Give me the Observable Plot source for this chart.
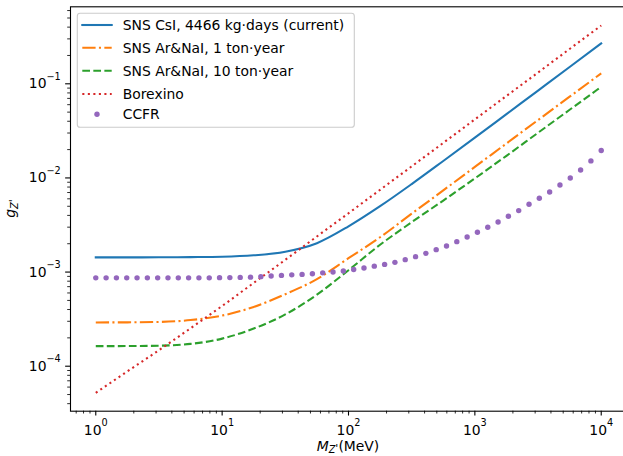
<!DOCTYPE html>
<html><head><meta charset="utf-8">
<script src="https://cdn.jsdelivr.net/npm/d3@7"></script>
<script src="https://cdn.jsdelivr.net/npm/@observablehq/plot@0.6"></script>
<style>
body{margin:0;background:#fff;overflow:hidden}
#chart{width:623px;height:456px;position:relative;overflow:hidden}
</style></head><body><div id="chart"></div>
<script>
// Mass grid (MeV) for the continuous curves
const massGrid = [1, 1.778, 3.162, 5.623, 10, 17.78, 31.62, 56.23, 100, 177.8, 316.2, 562.3, 1000, 1778, 3162, 5623, 10000];
// Couplings
const gCsI      = [1.432e-3, 1.432e-3, 1.435e-3, 1.442e-3, 1.455e-3, 1.507e-3, 1.648e-3, 2.028e-3, 3.062e-3, 5.012e-3, 8.610e-3, 1.514e-2, 2.679e-2, 4.764e-2, 8.472e-2, 0.1507, 0.2685];
const gArNaI1   = [2.917e-4, 2.924e-4, 2.951e-4, 3.090e-4, 3.451e-4, 4.266e-4, 5.821e-4, 8.414e-4, 1.403e-3, 2.344e-3, 4.169e-3, 7.379e-3, 1.309e-2, 2.323e-2, 4.121e-2, 7.295e-2, 0.1291];
const gArNaI10  = [1.633e-4, 1.637e-4, 1.652e-4, 1.726e-4, 1.963e-4, 2.512e-4, 3.548e-4, 5.754e-4, 1.047e-3, 1.950e-3, 3.388e-3, 5.754e-3, 9.886e-3, 1.718e-2, 3.020e-2, 5.297e-2, 9.290e-2];
const gBorexino = [5.212e-5, 8.810e-5, 1.479e-4, 2.529e-4, 4.365e-4, 7.674e-4, 1.349e-3, 2.388e-3, 4.217e-3, 7.482e-3, 1.327e-2, 2.355e-2, 4.188e-2, 7.430e-2, 0.1318, 0.2344, 0.4159];
// CCFR points
const ccfrMass = [1, 1.207, 1.457, 1.758, 2.121, 2.560, 3.089, 3.728, 4.499, 5.429, 6.552, 7.907, 9.541, 11.51, 13.90, 16.77, 20.24, 24.42, 29.47, 35.56, 42.92, 51.79, 62.51, 75.43, 91.03, 109.9, 132.6, 160.0, 193.1, 233.0, 281.2, 339.4, 409.5, 494.3, 596.5, 719.6, 868.5, 1048, 1265, 1527, 1842, 2223, 2683, 3237, 3907, 4715, 5690, 6867, 8287, 10000];
const ccfrG = [8.68e-4, 8.68e-4, 8.68e-4, 8.68e-4, 8.68e-4, 8.68e-4, 8.68e-4, 8.68e-4, 8.68e-4, 8.68e-4, 8.68e-4, 8.68e-4, 8.72e-4, 8.74e-4, 8.78e-4, 8.83e-4, 8.94e-4, 9.07e-4, 9.22e-4, 9.34e-4, 9.45e-4, 9.61e-4, 9.81e-4, 1.000e-3, 1.025e-3, 1.063e-3, 1.103e-3, 1.156e-3, 1.207e-3, 1.268e-3, 1.355e-3, 1.458e-3, 1.581e-3, 1.730e-3, 1.891e-3, 2.105e-3, 2.357e-3, 2.644e-3, 2.988e-3, 3.402e-3, 3.914e-3, 4.498e-3, 5.253e-3, 6.081e-3, 7.098e-3, 8.424e-3, 1.000e-2, 1.216e-2, 1.517e-2, 1.956e-2];

const seriesNames = ["SNS CsI, 4466 kg·days (current)", "SNS Ar&NaI, 1 ton·year", "SNS Ar&NaI, 10 ton·year", "Borexino", "CCFR"];
const seriesColors = ["#1f77b4", "#ff7f0e", "#2ca02c", "#d62728", "#9467bd"];
const seriesDash = [null, "13.3,3.33,2.08,3.33", "7.7,3.33", "2.08,3.44", null];

const xMajorTicks = [1, 10, 100, 1000, 10000];
const xMinorTicks = [0.7, 0.8, 0.9, 2, 3, 4, 5, 6, 7, 8, 9, 20, 30, 40, 50, 60, 70, 80, 90, 200, 300, 400, 500, 600, 700, 800, 900, 2000, 3000, 4000, 5000, 6000, 7000, 8000, 9000];
const yMajorTicks = [1e-4, 1e-3, 1e-2, 1e-1];
const yMinorTicks = [4e-5, 5e-5, 6e-5, 7e-5, 8e-5, 9e-5, 2e-4, 3e-4, 4e-4, 5e-4, 6e-4, 7e-4, 8e-4, 9e-4, 2e-3, 3e-3, 4e-3, 5e-3, 6e-3, 7e-3, 8e-3, 9e-3, 2e-2, 3e-2, 4e-2, 5e-2, 6e-2, 7e-2, 8e-2, 9e-2, 0.2, 0.3, 0.4, 0.5, 0.6];

const curves = [gCsI, gArNaI1, gArNaI10, gBorexino].map(gs => massGrid.map((m, i) => ({m, g: gs[i]})));
const ccfrRows = ccfrMass.map((m, i) => ({m, g: ccfrG[i]}));

const lineMarks = curves.map((rows, k) => Plot.line(rows, {
  x: "m", y: "g", stroke: seriesColors[k], strokeWidth: 2.08,
  strokeDasharray: seriesDash[k] || undefined,
  strokeLinecap: seriesDash[k] ? "butt" : "square", curve: "monotone-x"
}));

const expFmt = d => "10^" + Math.round(Math.log10(d));

const chart = Plot.plot({
  width: 623, height: 456,
  marginLeft: 70, marginRight: -3, marginTop: 6.3, marginBottom: 45.3,
  x: {type: "log", domain: [Math.pow(10, -0.2), Math.pow(10, 4.2)]},
  y: {type: "log", domain: [Math.pow(10, -4.478), Math.pow(10, -0.182)]},
  style: {fontFamily: "DejaVu Sans", fontSize: "13.9px", color: "black", background: "white"},
  marks: [
    ...lineMarks,
    Plot.dot(ccfrRows, {x: "m", y: "g", r: 2.7, fill: seriesColors[4], stroke: "none"}),
    Plot.axisX({ticks: xMinorTicks, tickSize: 2.8, strokeWidth: 0.83, tickFormat: () => "", label: null}),
    Plot.axisX({ticks: xMajorTicks, tickSize: 4.86, tickPadding: 9, strokeWidth: 1.1, tickFormat: expFmt, label: null}),
    Plot.axisY({ticks: yMinorTicks, tickSize: 2.8, strokeWidth: 0.83, tickFormat: () => "", label: null}),
    Plot.axisY({ticks: yMajorTicks, tickSize: 4.86, tickPadding: 4.86, strokeWidth: 1.1, tickFormat: expFmt, label: null}),
    Plot.frame({stroke: "black", strokeWidth: 1.1})
  ]
});
document.getElementById("chart").appendChild(chart);

const SVGNS = "http://www.w3.org/2000/svg";
// Superscript tick labels
chart.querySelectorAll('g[aria-label="x-axis tick label"] text, g[aria-label="y-axis tick label"] text').forEach(t => {
  const s = t.textContent;
  if (!s) { t.remove(); return; }
  const e = s.split("^")[1].replace("-", "\u2212");
  t.textContent = "10";
  const ts = document.createElementNS(SVGNS, "tspan");
  ts.setAttribute("dy", "-8.5");
  ts.setAttribute("font-size", "9.7px");
  ts.textContent = e;
  t.appendChild(ts);
});

const svg = d3.select(chart);
// Axis labels
const xl = svg.append("text").attr("x", 348).attr("y", 450.5).attr("text-anchor", "middle")
  .attr("font-family", "DejaVu Sans").attr("font-size", "13.9px").attr("fill", "black");
xl.append("tspan").attr("font-style", "italic").text("M");
xl.append("tspan").attr("font-style", "italic").attr("font-size", "9.7px").attr("dy", 2.5).text("Z");
xl.append("tspan").attr("font-size", "11px").attr("dy", -1).text("'");
xl.append("tspan").attr("dy", -1.5).text("(MeV)");

const yl = svg.append("text").attr("transform", "translate(14.5,208.5) rotate(-90)").attr("text-anchor", "middle")
  .attr("font-family", "DejaVu Sans").attr("font-size", "13.9px").attr("fill", "black");
yl.append("tspan").attr("font-style", "italic").text("g");
yl.append("tspan").attr("font-style", "italic").attr("font-size", "9.7px").attr("dy", 3).text("Z");
yl.append("tspan").attr("font-size", "11px").attr("dy", -1).text("'");

// Legend
const lg = svg.append("g").attr("font-family", "DejaVu Sans").attr("font-size", "13.9px").attr("text-anchor", "start");
lg.append("rect").attr("x", 77.3).attr("y", 13.3).attr("width", 277).attr("height", 114).attr("rx", 2.8)
  .attr("fill", "white").attr("fill-opacity", 0.8).attr("stroke", "#cccccc").attr("stroke-width", 1.1);
const rowY = [25, 47.7, 70.7, 94, 114.3];
seriesNames.forEach((name, k) => {
  const y = rowY[k];
  if (k < 4) {
    const ln = lg.append("line").attr("x1", 82.3).attr("x2", 111.7).attr("y1", y).attr("y2", y)
      .attr("stroke", seriesColors[k]).attr("stroke-width", 2.08)
      .attr("stroke-linecap", seriesDash[k] ? "butt" : "square");
    if (seriesDash[k]) ln.attr("stroke-dasharray", seriesDash[k]);
  } else {
    lg.append("circle").attr("cx", 97).attr("cy", y).attr("r", 2.7).attr("fill", seriesColors[k]);
  }
  lg.append("text").attr("x", 122.7).attr("y", y + 5).attr("text-anchor", "start").attr("fill", "black").text(name);
});
</script></body></html>
